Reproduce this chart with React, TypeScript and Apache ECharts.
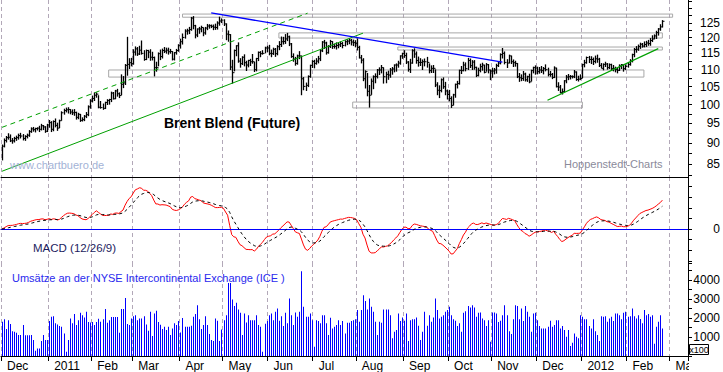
import React, { useEffect, useRef } from 'react';
import * as echarts from 'echarts';

const FONT = '"Liberation Sans", Arial, sans-serif';

// month labels on the time axis and number of trading days (weekdays) in each month
const monthLabels = ['Dec', '2011', 'Feb', 'Mar', 'Apr', 'May', 'Jun', 'Jul', 'Aug', 'Sep', 'Oct', 'Nov', 'Dec', '2012', 'Feb', 'Mar'];
const tradingDays = [23, 21, 20, 23, 21, 22, 22, 21, 23, 22, 21, 22, 22, 22, 21, 9];

// Brent daily closes (Dec 2010 .. 24 Feb 2012)
const closes = [
  // Dec 2010
  89.3, 90.7, 91.4, 91.5, 90.6, 90.6, 91.2, 91.4, 91.9, 91.8, 91.2, 91.7, 92.0, 92.9, 93.6, 93.4, 93.7, 93.8, 93.5, 94.4, 94.1, 93.0, 94.6,
  // Jan 2011
  95.2, 93.5, 95.5, 94.5, 93.8, 95.7, 97.8, 98.4, 98.6, 98.7, 98.0, 97.8, 97.9, 96.6, 97.4, 95.8, 96.0, 96.9, 97.3, 99.4, 101.0,
  // Feb
  101.7, 102.6, 102.9, 99.3, 99.2, 99.0, 100.6, 101.1, 101.4, 103.2, 101.6, 103.8, 103.0, 102.5, 105.7, 106.1, 111.3, 111.6, 112.1, 111.8,
  // Mar
  115.4, 116.4, 114.8, 116.0, 115.0, 113.1, 115.9, 115.4, 113.8, 113.7, 110.6, 110.6, 114.9, 114.0, 115.9, 115.7, 116.0, 115.5, 115.6, 113.2, 115.2, 115.9, 117.4,
  // Apr
  118.7, 120.1, 122.2, 122.3, 122.7, 126.6, 124.0, 120.9, 122.9, 122.9, 123.4, 121.6, 123.2, 123.9, 124.0, 123.8, 123.5, 123.4, 124.9, 125.6, 125.9,
  // May
  124.6, 121.2, 121.0, 110.8, 109.1, 115.9, 117.4, 112.6, 111.8, 113.8, 112.1, 111.4, 112.8, 112.4, 112.4, 110.0, 113.4, 115.3, 114.9, 115.0, 116.7, 116.7,
  // Jun
  115.0, 114.9, 116.3, 114.9, 117.1, 117.8, 118.7, 118.8, 119.6, 120.3, 118.0, 114.0, 113.2, 111.9, 114.2, 114.2, 107.3, 105.1, 105.4, 108.0, 111.3, 112.5,
  // Jul
  111.9, 112.6, 113.3, 115.8, 118.6, 118.3, 115.2, 117.2, 118.8, 117.2, 117.2, 117.5, 117.7, 118.1, 117.5, 118.7, 118.9, 119.2, 118.6, 118.4, 118.2,
  // Aug
  116.9, 113.6, 112.9, 107.3, 109.4, 103.7, 102.6, 106.6, 107.9, 108.0, 109.9, 109.9, 110.6, 107.9, 108.6, 108.4, 109.9, 110.2, 111.4, 111.4, 112.0, 114.2, 114.9,
  // Sep
  114.3, 112.3, 110.1, 112.0, 115.8, 114.8, 112.8, 112.2, 112.2, 112.4, 112.4, 112.2, 109.7, 110.4, 110.4, 105.5, 104.0, 103.9, 107.0, 105.0, 103.8, 102.8,
  // Oct
  101.7, 99.8, 102.7, 105.7, 105.9, 109.8, 109.7, 111.4, 110.3, 112.8, 111.2, 112.3, 110.7, 108.3, 109.8, 110.9, 111.4, 109.2, 111.5, 109.9, 109.6,
  // Nov
  109.6, 109.9, 111.2, 112.0, 114.6, 115.0, 112.2, 112.0, 114.2, 112.4, 112.1, 111.9, 107.9, 107.6, 107.4, 108.7, 107.0, 107.9, 106.4, 109.7, 110.6, 110.5,
  // Dec 2011
  109.4, 109.9, 109.7, 110.3, 110.0, 108.6, 108.6, 107.7, 110.5, 105.0, 104.9, 103.4, 103.6, 106.7, 107.8, 107.9, 108.0, 107.9, 109.3, 107.1, 107.2, 107.4,
  // Jan 2012
  111.5, 112.1, 113.7, 113.1, 113.1, 112.5, 113.3, 113.2, 111.3, 110.4, 111.6, 111.7, 110.6, 111.5, 110.3, 110.4, 110.0, 109.8, 111.1, 111.5, 110.3, 111.0,
  // Feb 2012
  111.6, 112.6, 114.6, 116.2, 116.3, 117.2, 117.9, 117.3, 117.8, 118.3, 118.1, 119.1, 119.6, 120.6, 121.7, 122.9, 123.6, 125.5,
];

const highs = [
  // Dec 2010
  89.7, 91.2, 91.8, 92.5, 92.2, 91.3, 91.6, 91.9, 92.4, 92.6, 92.3, 92.0, 92.4, 93.3, 94.0, 94.1, 93.9, 94.0, 94.4, 94.9, 94.6, 94.3, 94.9,
  // Jan 2011
  95.9, 95.6, 95.8, 96.3, 95.2, 96.0, 98.2, 98.9, 99.2, 99.3, 98.8, 98.7, 98.8, 98.1, 97.8, 97.5, 96.6, 97.2, 98.0, 99.8, 101.5,
  // Feb
  102.5, 103.4, 103.4, 102.6, 101.0, 100.3, 100.8, 101.5, 101.6, 103.6, 103.5, 104.1, 104.4, 103.4, 108.6, 108.1, 111.7, 120.3, 113.5, 113.6,
  // Mar
  116.3, 117.2, 117.0, 117.4, 119.1, 116.0, 116.2, 116.1, 116.3, 115.5, 114.0, 112.4, 115.3, 116.2, 116.5, 117.0, 116.8, 116.8, 116.4, 115.7, 115.4, 116.4, 117.9,
  // Apr
  119.7, 121.4, 122.8, 123.0, 123.6, 127.0, 127.3, 124.3, 123.1, 123.6, 124.0, 123.4, 123.6, 124.6, 124.5, 124.4, 124.4, 124.7, 125.5, 127.1, 126.5,
  // May
  126.2, 124.8, 122.4, 121.2, 113.0, 116.2, 117.6, 118.5, 113.5, 114.1, 114.7, 112.7, 113.0, 113.3, 114.8, 112.4, 113.6, 115.6, 115.7, 116.0, 117.1, 117.4,
  // Jun
  117.7, 116.2, 116.8, 116.7, 117.6, 118.9, 120.4, 120.3, 121.2, 121.6, 120.7, 118.3, 115.0, 113.9, 114.6, 115.7, 114.3, 107.8, 106.2, 108.3, 111.5, 112.9,
  // Jul
  113.0, 113.5, 114.2, 116.3, 118.9, 119.3, 118.7, 117.6, 119.3, 118.9, 118.1, 118.5, 118.4, 118.8, 118.6, 119.2, 119.5, 119.8, 119.6, 119.4, 119.2,
  // Aug
  119.8, 117.4, 114.5, 113.5, 109.8, 109.0, 105.5, 107.4, 108.3, 108.9, 110.2, 110.7, 111.4, 110.7, 109.4, 109.7, 110.5, 110.8, 111.6, 111.9, 112.7, 114.4, 115.2,
  // Sep
  116.0, 115.2, 112.6, 113.3, 116.3, 116.6, 115.6, 114.0, 113.5, 113.1, 113.4, 113.9, 111.9, 111.3, 111.4, 110.1, 106.3, 105.4, 107.4, 107.7, 106.4, 104.2,
  // Oct
  104.1, 102.3, 103.0, 105.9, 106.7, 110.0, 111.1, 112.4, 112.2, 113.6, 113.4, 112.9, 112.9, 110.9, 110.6, 111.8, 112.1, 111.5, 112.0, 111.7, 110.0,
  // Nov
  110.6, 110.5, 111.8, 112.6, 115.0, 116.7, 115.6, 113.2, 114.6, 114.3, 113.1, 112.7, 112.0, 109.0, 108.6, 109.6, 109.1, 108.2, 108.8, 110.0, 110.9, 111.3,
  // Dec 2011
  110.9, 110.8, 111.1, 110.8, 111.6, 110.6, 109.6, 109.0, 111.0, 110.6, 106.3, 105.5, 104.5, 106.9, 108.4, 108.7, 108.4, 108.3, 109.9, 109.5, 108.2, 108.6,
  // Jan 2012
  111.8, 113.0, 114.0, 114.2, 114.1, 113.7, 114.3, 114.6, 113.6, 112.0, 111.9, 112.4, 112.0, 111.9, 111.8, 111.4, 110.9, 110.5, 111.6, 111.7, 111.4, 111.6,
  // Feb 2012
  112.3, 113.2, 114.9, 116.7, 117.3, 117.8, 118.4, 118.3, 118.8, 119.0, 119.3, 119.9, 120.8, 121.1, 122.3, 123.2, 124.5, 125.9,
];

const lows = [
  // Dec 2010
  85.9, 89.0, 90.2, 90.9, 90.3, 89.9, 90.2, 90.6, 90.9, 91.2, 90.7, 90.6, 91.2, 91.6, 92.6, 92.9, 92.7, 93.2, 92.8, 93.2, 93.3, 92.6, 92.8,
  // Jan 2011
  93.9, 92.8, 93.0, 94.0, 93.1, 93.8, 95.7, 97.3, 97.9, 97.6, 97.4, 97.2, 97.0, 96.0, 96.1, 95.4, 95.5, 95.6, 96.4, 96.9, 98.9,
  // Feb
  100.6, 101.0, 101.9, 99.0, 98.9, 98.6, 98.8, 99.9, 100.0, 100.7, 101.4, 101.5, 102.2, 101.8, 102.6, 104.6, 105.5, 108.2, 110.2, 111.0,
  // Mar
  111.5, 114.3, 114.2, 114.5, 114.6, 112.7, 112.9, 113.5, 112.7, 112.8, 108.0, 109.4, 111.0, 112.9, 113.4, 115.1, 114.9, 114.6, 114.9, 112.8, 112.8, 114.6, 115.5,
  // Apr
  116.5, 117.8, 119.7, 121.0, 121.2, 122.3, 122.8, 119.8, 120.2, 121.3, 121.8, 120.5, 121.0, 122.5, 123.0, 123.2, 122.5, 122.6, 122.7, 124.0, 124.9,
  // May
  123.9, 119.2, 118.7, 109.9, 105.9, 109.5, 114.1, 112.1, 110.6, 111.4, 111.0, 109.6, 110.7, 111.1, 111.8, 109.3, 109.5, 112.6, 113.8, 114.6, 115.0, 115.4,
  // Jun
  114.4, 113.8, 114.5, 113.9, 114.4, 116.0, 117.0, 117.8, 118.0, 118.9, 117.3, 113.6, 112.4, 111.2, 111.5, 113.2, 102.6, 104.0, 103.8, 104.9, 107.6, 110.5,
  // Jul
  110.4, 111.5, 111.9, 112.6, 115.4, 116.4, 114.6, 114.9, 116.7, 116.4, 116.5, 116.2, 116.6, 117.0, 116.6, 117.2, 117.6, 117.9, 117.5, 117.3, 116.9,
  // Aug
  115.9, 113.4, 111.9, 106.6, 104.5, 102.3, 99.2, 102.7, 104.3, 106.0, 107.4, 108.4, 108.9, 105.9, 106.0, 107.0, 107.6, 108.5, 109.2, 109.4, 110.6, 111.5, 113.3,
  // Sep
  113.6, 111.7, 109.4, 109.0, 111.8, 113.6, 111.8, 110.9, 111.1, 109.9, 111.0, 110.6, 108.9, 109.0, 109.0, 104.9, 102.6, 101.8, 103.4, 104.4, 102.6, 101.4,
  // Oct
  100.9, 99.1, 99.8, 101.9, 104.5, 105.6, 108.7, 109.5, 109.5, 109.9, 110.5, 109.9, 110.0, 107.8, 108.0, 109.2, 109.7, 108.9, 109.4, 108.9, 106.9,
  // Nov
  107.6, 108.6, 108.8, 110.8, 111.6, 113.4, 111.6, 110.5, 111.9, 111.7, 110.8, 110.9, 107.5, 106.4, 106.6, 106.7, 106.5, 106.4, 106.0, 106.5, 108.9, 108.5,
  // Dec 2011
  108.6, 108.8, 109.0, 108.6, 109.5, 108.0, 107.9, 107.2, 107.5, 104.8, 103.8, 103.1, 102.8, 103.4, 106.0, 106.9, 107.1, 107.4, 107.5, 106.7, 106.5, 106.9,
  // Jan 2012
  107.5, 110.7, 111.8, 112.0, 111.7, 111.4, 111.9, 112.1, 110.8, 110.4, 109.8, 110.8, 110.0, 110.2, 109.6, 109.5, 109.2, 108.9, 109.6, 110.2, 109.4, 109.9,
  // Feb 2012
  110.6, 111.2, 112.2, 113.8, 115.2, 115.8, 116.4, 116.8, 116.9, 117.0, 117.4, 117.4, 118.6, 119.5, 119.6, 120.7, 122.3, 123.4,
];

// ICE volumes (x100 contracts)
const volumes = [
  1800, 1940, 1420, 1890, 1680, 1310, 1280, 1230, 1100, 1100,
  1630, 1090, 1090, 1090, 1100, 840, 280, 400, 390, 790,
  1100, 840, 840, 1840, 2070, 2100, 1720, 1660, 1580, 1540,
  1190, 230, 840, 1980, 1720, 2210, 1630, 1890, 2280, 2150,
  2030, 2330, 1790, 1770, 1790, 1630, 1790, 1960, 1800, 1930,
  2470, 1750, 1890, 2050, 2050, 2050, 2050, 1230, 2470, 2470,
  3050, 1680, 1630, 1980, 2100, 2150, 1890, 1980, 1980, 2100,
  1660, 1330, 2330, 1050, 2240, 2380, 1790, 1650, 1420, 1540,
  1370, 1540, 1100, 1450, 1720, 1630, 1840, 1240, 2000, 1540,
  1540, 1540, 1600, 2070, 2210, 2680, 1930, 1420, 1630, 2100, 1630,
  1160, 840, 790, 1980, 1860, 790, 1400, 1890, 2150, 3850,
  3850, 2980, 2630, 2800, 2450, 2280, 1100, 2240, 1770, 2150,
  1890, 1890, 1890, 2150, 1630, 1540, 230, 1700, 1840, 2150, 2240,
  1890, 2330, 2500, 1860, 2100, 1580, 2280, 1720, 3030, 2150,
  1630, 2290, 2070, 2330, 4460, 2590, 2070, 2070, 2240, 1890,
  490, 1890, 1840, 1720, 2150, 2150, 1720, 1100, 2010, 1450,
  1540, 1630, 1890, 1630, 1840, 1190, 1750, 1750, 1840, 1890,
  1930, 2420, 1800,
  2420, 3200, 2900, 2450, 3030, 2590, 2330, 1800, 1100, 1800,
  1750, 2450, 2450, 2450, 2150, 930, 1280, 1370, 2240, 1840,
  2030, 1860, 2240, 790, 1890, 1930, 1930, 2030, 1590, 840,
  1280, 2330, 1590, 2150, 1800, 2030, 3030, 2420, 1980, 2070,
  2150, 2330, 2420, 2590, 2150, 1930, 1860, 1580, 1720, 1280,
  2280, 2360, 2630, 2560, 2680, 2560, 2070, 2280, 2290, 1980,
  1890, 1580, 1890, 750, 2290, 2290, 2240, 1790, 1860, 2150,
  2680, 2150, 1310, 1160, 1930, 2680, 2630, 1930, 2500, 1840,
  2640, 2330, 2070, 1280, 2240, 2280, 1890, 1580, 1450, 1450,
  1450, 1540, 1860, 1540, 1630, 1890, 1890, 1450, 1580, 1370,
  1020, 1370, 530, 700, 1190, 1020, 930, 2150, 2070, 1930,
  1930, 1580, 1450, 1930, 1310, 1100, 790, 2100, 2070, 2100, 1800,
  1980, 2070, 1840, 2240, 2240, 2150, 1930, 2280, 2330, 2070,
  2100, 2500, 2100, 1980, 2150, 1950,
  1720, 2420, 2150, 2210, 2070, 2150, 650, 1540, 1800, 2150, 1450,
];

// price axis ticks (log scale)
const priceLabelValues = [85, 90, 95, 100, 105, 110, 115, 120, 125];
const priceTickValues = [82.5, 85, 87.5, 90, 92.5, 95, 97.5, 100, 102.5, 105, 107.5, 110, 112.5, 115, 117.5, 120, 122.5, 125, 127.5, 130, 132.5];

// drawn trend lines: [startIndex, startPrice, endIndex, endPrice]
const trendDashedGreen = [0, 94.0, 149, 128.3];
const trendSolidGreen = [0, 83.4, 176, 121.5];
const trendBlue = [102, 128.4, 244, 112.3];
const trendGreenRight = [266, 101.2, 320, 116.5];
// horizontal zones: [startIndex, endIndex, lowPrice, highPrice]
const zones = [
  [88, 327, 126.9, 128.0],
  [135, 322, 119.9, 121.6],
  [193, 322, 116.05, 117.0],
  [52, 313, 107.8, 109.9],
  [171, 283, 99.1, 100.7],
];

function ema(arr: number[], n: number): number[] {
  const k = 2 / (n + 1);
  const out: number[] = [];
  let prev = arr[0];
  arr.forEach((v, i) => {
    prev = i === 0 ? v : v * k + prev * (1 - k);
    out.push(prev);
  });
  return out;
}

export default function App() {
  const ref = useRef<HTMLDivElement>(null);

  useEffect(() => {
    if (!ref.current) return;
    const chart = echarts.init(ref.current, undefined, { renderer: 'svg' });

    const categories: string[] = [];
    const monthStart = new Set<number>();
    tradingDays.forEach((n, m) => {
      monthStart.add(categories.length);
      for (let d = 0; d < n; d++) categories.push(m + '|' + d);
    });
    const isMonthStart = (i: number) => monthStart.has(i);

    const e12 = ema(closes, 12);
    const e26 = ema(closes, 26);
    const macd = e12.map((v, i) => v - e26[i]);
    const signal = ema(macd, 9);
    const mx = Math.max(...macd, ...signal);
    const mn = Math.min(...macd, ...signal);
    const u = Math.max(mx / 46, -mn / 25);
    const macdMin = -34 * u;
    const macdMax = 52 * u;
    const macdTicks = [-3, -2, -1, 0, 1, 2, 3, 4].map((j) => j * 10.6 * u);

    const ohlc = closes.map((c, i) => [i, lows[i], highs[i], c]);
    const volData = volumes.map((v, i) => [i, v]);

    const mkX = (gi: number, bottom: boolean) => ({
      type: 'category',
      gridIndex: gi,
      data: categories,
      boundaryGap: true,
      axisLine: { show: true, lineStyle: { color: '#000', width: 1 } },
      axisTick: { show: bottom, interval: (i: number) => isMonthStart(i), length: 5, lineStyle: { color: '#000' } },
      axisLabel: {
        show: bottom,
        interval: (i: number) => isMonthStart(i),
        formatter: (v: string) => monthLabels[Number(v.split('|')[0])],
        align: 'left',
        padding: [0, 0, 0, 5],
        margin: 4,
        color: '#000',
        fontSize: 12,
        fontFamily: FONT,
      },
      splitLine: {
        show: true,
        interval: (i: number) => isMonthStart(i),
        lineStyle: { color: '#b2a8b8', type: [4, 3], width: 1 },
      },
    });

    const line = (t: number[], color: string, type: any, width: number) => [
      { coord: [t[0], t[1]], lineStyle: { color, type, width } },
      { coord: [t[2], t[3]] },
    ];

    chart.setOption({
      animation: false,
      backgroundColor: '#fff',
      grid: [
        { left: 1, right: 35, top: 0, height: 177 },
        { left: 1, right: 35, top: 177, height: 86 },
        { left: 1, right: 35, top: 263, height: 93 },
      ],
      xAxis: [mkX(0, false), mkX(1, false), mkX(2, true)],
      yAxis: [
        {
          type: 'log',
          logBase: 10,
          gridIndex: 0,
          position: 'right',
          min: 82.1,
          max: 133,
          axisLine: { show: true, lineStyle: { color: '#000' } },
          axisTick: { show: true, customValues: priceTickValues, length: 4, lineStyle: { color: '#000' } },
          axisLabel: {
            customValues: priceLabelValues,
            formatter: (v: number) => String(Math.round(v)),
            align: 'right',
            margin: 32,
            color: '#000',
            fontSize: 12,
            fontFamily: FONT,
          },
          splitLine: { show: false },
        },
        {
          type: 'value',
          gridIndex: 1,
          position: 'right',
          min: macdMin,
          max: macdMax,
          axisLine: { show: true, lineStyle: { color: '#000' } },
          axisTick: { show: true, customValues: macdTicks, length: 4, lineStyle: { color: '#000' } },
          axisLabel: {
            customValues: [0],
            formatter: () => '0',
            align: 'right',
            margin: 32,
            color: '#000',
            fontSize: 12,
            fontFamily: FONT,
          },
          splitLine: { show: false },
        },
        {
          type: 'value',
          gridIndex: 2,
          position: 'right',
          min: 0,
          max: 4900,
          interval: 500,
          axisLine: { show: true, lineStyle: { color: '#000' } },
          axisTick: { show: true, length: 4, lineStyle: { color: '#000' } },
          axisLabel: {
            formatter: (v: number) => (v > 0 && v % 1000 === 0 ? String(v) : ''),
            align: 'right',
            margin: 32,
            color: '#000',
            fontSize: 12,
            fontFamily: FONT,
          },
          splitLine: { show: false },
        },
      ],
      series: [
        {
          type: 'line',
          xAxisIndex: 0,
          yAxisIndex: 0,
          data: [],
          silent: true,
          z: 1,
          markArea: {
            silent: true,
            itemStyle: { color: 'rgba(255,255,255,0)', borderColor: '#a8a8a8', borderWidth: 1 },
            data: zones.map((z) => [{ coord: [z[0], z[3]] }, { coord: [z[1], z[2]] }]),
          },
          markLine: {
            silent: true,
            symbol: 'none',
            label: { show: false },
            data: [
              line(trendDashedGreen, '#00a000', [5, 4], 1),
              line(trendSolidGreen, '#00a000', 'solid', 1),
              line(trendBlue, '#0000ff', 'solid', 1.4),
              line(trendGreenRight, '#00a000', 'solid', 1.2),
            ],
          },
        },
        {
          type: 'custom',
          xAxisIndex: 0,
          yAxisIndex: 0,
          z: 3,
          data: ohlc,
          encode: { x: 0, y: [1, 2, 3] },
          renderItem: (params: any, api: any) => {
            const lo = api.coord([api.value(0), api.value(1)]);
            const hi = api.coord([api.value(0), api.value(2)]);
            const cl = api.coord([api.value(0), api.value(3)]);
            const xc = Math.round(lo[0]) + 0.5;
            return {
              type: 'group',
              children: [
                { type: 'line', shape: { x1: xc, y1: lo[1], x2: xc, y2: hi[1] }, style: { stroke: '#000', lineWidth: 1.3 } },
                { type: 'line', shape: { x1: xc, y1: cl[1], x2: xc + 2, y2: cl[1] }, style: { stroke: '#000', lineWidth: 1 } },
              ],
            };
          },
        },
        {
          type: 'line',
          name: 'MACD',
          xAxisIndex: 1,
          yAxisIndex: 1,
          data: macd,
          symbol: 'none',
          lineStyle: { color: '#ff0000', width: 1 },
          z: 4,
          markLine: {
            silent: true,
            symbol: 'none',
            label: { show: false },
            lineStyle: { color: '#0000ff', type: 'solid', width: 1.2 },
            data: [{ yAxis: 0 }],
          },
        },
        {
          type: 'line',
          name: 'Signal',
          xAxisIndex: 1,
          yAxisIndex: 1,
          data: signal,
          symbol: 'none',
          lineStyle: { color: '#000', width: 1, type: [3, 3] },
          z: 5,
        },
        {
          type: 'custom',
          xAxisIndex: 2,
          yAxisIndex: 2,
          data: volData,
          encode: { x: 0, y: 1 },
          renderItem: (params: any, api: any) => {
            const top = api.coord([api.value(0), api.value(1)]);
            const base = api.coord([api.value(0), 0]);
            const x = Math.round(top[0]);
            return {
              type: 'rect',
              shape: { x, y: top[1], width: 1, height: base[1] - top[1] },
              style: { fill: '#0000ff' },
            };
          },
        },
      ],
      graphic: [
        { type: 'text', x: 164, y: 123, z: 10, style: { text: 'Brent Blend (Future)', font: 'bold 14px ' + FONT, fill: '#000', verticalAlign: 'middle' } },
        { type: 'text', x: 10, y: 164.5, z: 10, style: { text: 'www.chartbuero.de', font: '11px ' + FONT, fill: '#a3b3d6', verticalAlign: 'middle' } },
        { type: 'text', x: 564, y: 164, z: 10, style: { text: 'Hoppenstedt-Charts', font: '11px ' + FONT, fill: '#8a8a9a', verticalAlign: 'middle' } },
        { type: 'text', x: 33, y: 248, z: 10, style: { text: 'MACD (12/26/9)', font: '11.5px ' + FONT, fill: '#1c1c60', verticalAlign: 'middle' } },
        { type: 'text', x: 12, y: 277.5, z: 10, style: { text: 'Umsätze an der NYSE Intercontinental Exchange (ICE )', font: '11px ' + FONT, fill: '#2a2aee', verticalAlign: 'middle' } },
        { type: 'rect', z: 100, shape: { x: 689, y: 357, width: 34, height: 15 }, style: { fill: '#fff' } },
        { type: 'rect', z: 101, shape: { x: 689.5, y: 344.5, width: 19, height: 10 }, style: { fill: '#fff', stroke: '#000', lineWidth: 1 } },
        { type: 'text', x: 699, y: 350, z: 102, style: { text: 'x100', font: '9px ' + FONT, fill: '#000', align: 'center', verticalAlign: 'middle' } },
      ],
    });

    return () => chart.dispose();
  }, []);

  return <div ref={ref} style={{ position: 'absolute', left: 0, top: 0, width: 723, height: 372 }} />;
}
